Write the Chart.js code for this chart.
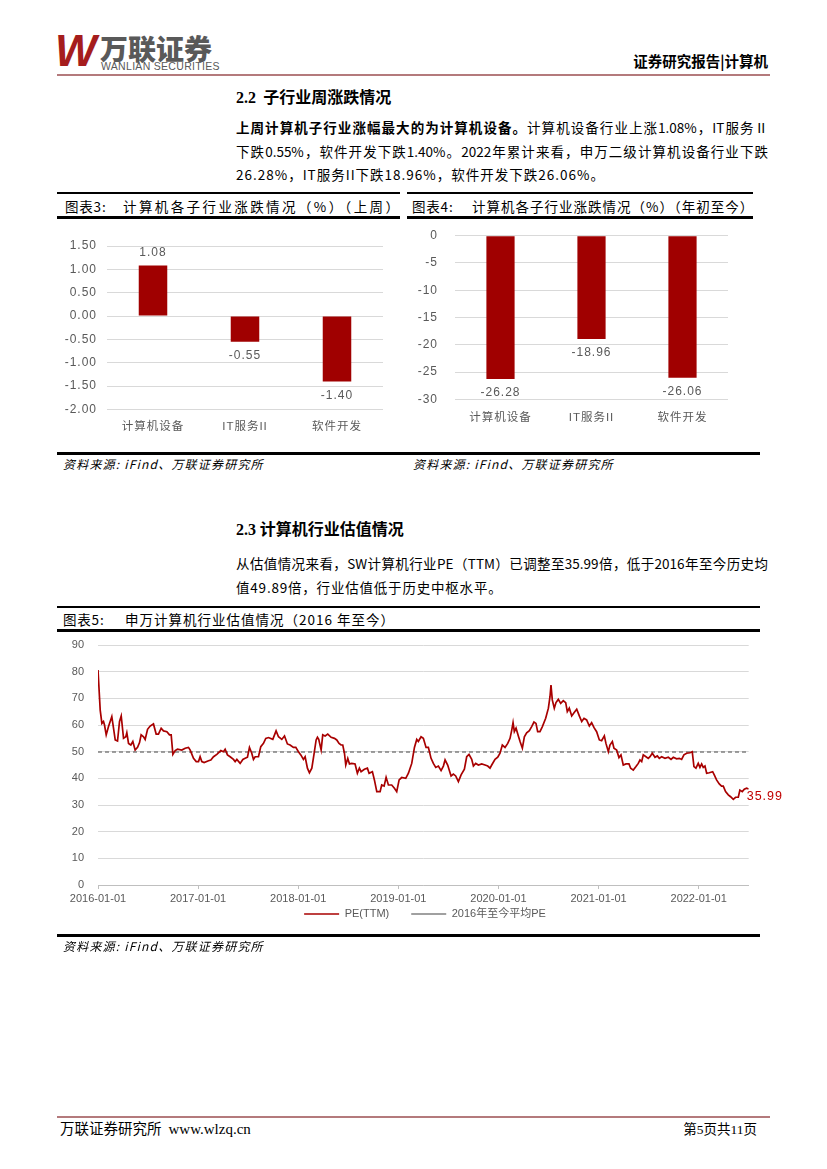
<!DOCTYPE html>
<html><head><meta charset="utf-8">
<script src="https://cdn.jsdelivr.net/npm/chart.js@4.4.0/dist/chart.umd.min.js"></script>
<style>
html,body{margin:0;padding:0;background:#fff;}
body{width:827px;height:1169px;position:relative;overflow:hidden;font-family:"Noto Sans CJK SC","Noto Sans",sans-serif;color:#000;}
.abs{position:absolute;white-space:nowrap;}
.rule{position:absolute;background:#000;}
.para{font-size:13.5px;line-height:20px;}
.just{width:532px;text-align:justify;text-align-last:justify;}
.cap{font-size:13.5px;line-height:20px;letter-spacing:0.8px;}
.src{font-size:12px;line-height:16px;font-style:italic;letter-spacing:1.2px;}
.title{font-size:16px;line-height:20px;font-weight:bold;}
.box{position:absolute;}
</style></head><body>

<!-- header -->
<div class="abs" style="left:55px;top:27px;font-family:'Liberation Sans',sans-serif;font-size:44px;font-weight:900;font-style:italic;color:#a51d1d;line-height:48px;letter-spacing:-3px;">W</div>
<div class="abs" style="left:100px;top:33px;font-size:28px;font-weight:900;color:#595959;line-height:30px;letter-spacing:0px;">万联证券</div>
<div class="abs" style="left:101px;top:61px;font-family:'Liberation Sans',sans-serif;font-size:10.5px;color:#595959;line-height:11px;letter-spacing:0.3px;">WANLIAN SECURITIES</div>
<div class="abs" style="right:59px;top:52px;font-size:14.5px;font-weight:bold;line-height:18px;">证券研究报告|计算机</div>
<div class="rule" style="left:57px;top:74px;width:713px;height:2px;background:#b47a7c;"></div>

<!-- section 2.2 -->
<div class="abs title" style="left:236px;top:86px;"><span style="font-family:'Liberation Serif',serif;">2.2</span>&nbsp; 子行业周涨跌情况</div>
<div class="abs para just" style="left:236px;top:117px;"><b>上周计算机子行业涨幅最大的为计算机设备。</b>计算机设备行业上涨1.08%，IT服务Ⅱ</div>
<div class="abs para just" style="left:236px;top:141px;">下跌0.55%，软件开发下跌1.40%。2022年累计来看，申万二级计算机设备行业下跌</div>
<div class="abs para" style="left:236px;top:164px;letter-spacing:1px;">26.28%，IT服务II下跌18.96%，软件开发下跌26.06%。</div>

<!-- captions 3 & 4 -->
<div class="rule" style="left:57px;top:192px;width:343px;height:2px;"></div>
<div class="rule" style="left:57px;top:216px;width:343px;height:2.5px;"></div>
<div class="abs cap" style="left:65px;top:196px;">图表3:</div>
<div class="abs cap" style="left:123px;top:196px;letter-spacing:2.4px;">计算机各子行业涨跌情况（%）（上周）</div>
<div class="rule" style="left:407px;top:192px;width:346px;height:2px;"></div>
<div class="rule" style="left:407px;top:216px;width:346px;height:2.5px;"></div>
<div class="abs cap" style="left:412px;top:196px;">图表4:</div>
<div class="abs cap" style="left:472px;top:196px;letter-spacing:1px;">计算机各子行业涨跌情况（%）（年初至今）</div>

<div class="box" style="left:57px;top:225px;width:343px;height:215px;"><canvas id="c3"></canvas></div>
<div class="box" style="left:405px;top:225px;width:355px;height:215px;"><canvas id="c4"></canvas></div>

<div class="rule" style="left:57px;top:452px;width:703px;height:2.5px;"></div>
<div class="abs src" style="left:63px;top:456px;">资料来源: iFind、万联证券研究所</div>
<div class="abs src" style="left:413px;top:456px;">资料来源: iFind、万联证券研究所</div>

<!-- section 2.3 -->
<div class="abs title" style="left:236px;top:518px;"><span style="font-family:'Liberation Serif',serif;">2.3</span>&nbsp;计算机行业估值情况</div>
<div class="abs para just" style="left:236px;top:553px;">从估值情况来看，SW计算机行业PE（TTM）已调整至35.99倍，低于2016年至今历史均</div>
<div class="abs para" style="left:236px;top:577px;letter-spacing:0.8px;">值49.89倍，行业估值低于历史中枢水平。</div>

<div class="rule" style="left:57px;top:606px;width:703px;height:2px;"></div>
<div class="rule" style="left:57px;top:629px;width:703px;height:2.5px;"></div>
<div class="abs cap" style="left:63px;top:609px;">图表5:</div>
<div class="abs cap" style="left:125px;top:609px;letter-spacing:1px;">申万计算机行业估值情况（2016 年至今）</div>

<div class="box" style="left:57px;top:635px;width:736px;height:313px;"><canvas id="c5"></canvas></div>

<div class="rule" style="left:57px;top:934px;width:703px;height:2.5px;"></div>
<div class="abs src" style="left:63px;top:938px;">资料来源: iFind、万联证券研究所</div>

<!-- footer -->
<div class="rule" style="left:57px;top:1116px;width:713px;height:2px;background:#b47a7c;"></div>
<div class="abs" style="left:60px;top:1119px;font-size:14.5px;line-height:18px;">万联证券研究所 <span style="font-family:'Liberation Serif',serif;font-size:15px;">&nbsp;www.wlzq.cn</span></div>
<div class="abs" style="right:70px;top:1119px;font-size:13.5px;line-height:18px;">第<span style="font-family:'Liberation Serif',serif;">5</span>页共<span style="font-family:'Liberation Serif',serif;">11</span>页</div>

<script>
// ---------- data ----------
const categories = ['计算机设备', 'IT服务II', '软件开发'];
const weekChange = [1.08, -0.55, -1.40];
const ytdChange = [-26.28, -18.96, -26.06];
const weekAxis = {min: -2, max: 1.5, step: 0.5};
const ytdAxis = {min: -30, max: 0, step: 5};

const peYears = [
2016.000,2016.022,2016.039,2016.055,2016.065,2016.082,2016.105,2016.138,2016.148,2016.172,
2016.195,2016.215,2016.232,2016.255,2016.278,2016.288,2016.305,2016.328,2016.348,2016.371,
2016.395,2016.415,2016.431,2016.455,2016.471,2016.495,2016.521,2016.554,2016.581,2016.604,
2016.631,2016.654,2016.688,2016.714,2016.731,2016.748,2016.771,2016.794,2016.837,2016.871,
2016.904,2016.921,2016.954,2016.981,2017.004,2017.020,2017.037,2017.060,2017.104,2017.127,
2017.154,2017.187,2017.227,2017.253,2017.270,2017.293,2017.320,2017.353,2017.370,2017.387,
2017.420,2017.447,2017.470,2017.493,2017.513,2017.536,2017.553,2017.570,2017.603,2017.626,
2017.653,2017.676,2017.703,2017.746,2017.779,2017.803,2017.836,2017.863,2017.892,2017.919,
2017.952,2017.976,2018.002,2018.026,2018.052,2018.069,2018.092,2018.112,2018.136,2018.159,
2018.179,2018.192,2018.205,2018.229,2018.245,2018.269,2018.295,2018.329,2018.362,2018.385,
2018.408,2018.428,2018.445,2018.462,2018.475,2018.495,2018.512,2018.535,2018.568,2018.591,
2018.611,2018.628,2018.661,2018.691,2018.708,2018.741,2018.761,2018.785,2018.818,2018.834,
2018.858,2018.878,2018.901,2018.934,2018.961,2018.984,2019.008,2019.034,2019.074,2019.101,
2019.134,2019.161,2019.184,2019.200,2019.227,2019.250,2019.277,2019.300,2019.327,2019.350,
2019.374,2019.400,2019.427,2019.450,2019.467,2019.493,2019.527,2019.550,2019.573,2019.600,
2019.627,2019.660,2019.683,2019.706,2019.733,2019.750,2019.773,2019.800,2019.833,2019.866,
2019.893,2019.916,2019.933,2019.966,2019.993,2020.016,2020.039,2020.066,2020.093,2020.116,
2020.133,2020.146,2020.159,2020.176,2020.199,2020.216,2020.239,2020.259,2020.282,2020.309,
2020.332,2020.355,2020.375,2020.392,2020.415,2020.439,2020.472,2020.499,2020.515,2020.525,
2020.538,2020.558,2020.575,2020.598,2020.622,2020.648,2020.672,2020.688,2020.708,2020.732,
2020.755,2020.782,2020.808,2020.832,2020.855,2020.881,2020.908,2020.931,2020.955,2020.981,
2021.008,2021.031,2021.058,2021.074,2021.098,2021.114,2021.138,2021.154,2021.181,2021.204,
2021.224,2021.247,2021.274,2021.304,2021.321,2021.347,2021.374,2021.397,2021.414,2021.431,
2021.447,2021.474,2021.497,2021.514,2021.537,2021.564,2021.587,2021.607,2021.630,2021.664,
2021.697,2021.724,2021.747,2021.780,2021.807,2021.830,2021.853,2021.880,2021.913,2021.936,
2021.953,2021.973,2021.996,2022.013,2022.030,2022.046,2022.063,2022.080,2022.106,2022.140,
2022.156,2022.179,2022.206,2022.229,2022.246,2022.269,2022.296,2022.319,2022.346,2022.369,
2022.396,2022.412,2022.436,2022.456,2022.479,2022.500
];
const peValues = [
80.6,65.6,60.6,61.3,60.0,56.3,59.4,63.1,60.6,54.4,
54.0,61.3,63.4,55.0,55.6,57.1,53.1,52.5,53.8,50.6,
51.6,53.4,56.3,55.6,54.6,58.4,59.6,60.4,56.6,56.6,
58.8,57.8,57.5,56.3,56.3,49.0,50.4,50.9,50.6,51.3,
51.6,50.6,47.5,46.3,46.3,48.1,46.3,45.9,46.6,46.9,
48.1,49.0,50.4,50.0,50.9,48.8,48.1,47.1,46.3,47.1,
45.6,47.1,47.5,47.9,51.6,49.4,47.1,48.1,48.1,51.9,
53.1,55.0,55.3,54.6,57.8,55.6,54.6,55.9,52.9,52.5,
51.6,51.6,50.0,48.8,47.1,48.1,43.8,42.1,43.8,49.4,
54.4,55.4,54.6,50.6,56.3,55.9,56.6,55.4,55.0,54.4,
53.1,52.5,52.5,49.4,45.0,47.5,45.4,45.6,45.4,41.9,
43.8,42.5,43.4,43.8,41.9,42.5,39.4,35.0,35.0,37.5,
37.1,40.4,37.5,37.5,36.3,35.0,39.4,40.3,40.0,41.9,
45.6,51.6,54.6,53.8,55.6,55.0,51.6,51.6,47.5,45.6,
44.1,44.6,42.9,44.6,46.9,45.0,40.9,41.6,40.9,38.8,
41.3,43.4,48.1,49.0,47.1,44.6,45.6,45.0,45.4,45.0,
44.6,43.8,45.0,47.1,47.9,49.4,52.5,51.6,53.1,55.0,
58.1,60.9,57.5,58.8,55.9,53.8,51.3,55.6,57.1,57.9,
59.4,61.1,60.6,57.5,57.5,59.4,62.5,66.3,70.6,75.0,
69.4,66.3,68.4,69.6,68.1,69.1,68.4,65.0,66.3,63.4,
64.6,65.9,63.4,61.3,62.5,61.9,59.6,60.9,59.0,57.5,
54.4,54.1,55.9,53.1,50.0,52.5,53.8,51.3,50.6,47.8,
48.8,45.0,45.4,45.4,43.8,43.1,44.4,45.6,46.9,46.3,
48.8,48.1,47.5,48.1,49.4,47.9,48.4,47.5,48.1,47.5,
47.9,47.1,47.9,47.3,47.5,47.1,48.8,49.4,49.6,50.0,
44.4,43.8,45.6,44.1,45.4,44.1,44.6,41.9,42.1,42.5,
41.3,39.4,37.9,37.1,37.1,35.0,33.8,33.1,32.1,32.9,
32.9,35.6,35.0,35.9,36.3,35.99
];
const peMean = 49.89;
const peRange = {min: 2016, max: 2022.5};
const yearTicks = [2016, 2017, 2018, 2019, 2020, 2021, 2022];
const yearTickLabels = ['2016-01-01','2017-01-01','2018-01-01','2019-01-01','2020-01-01','2021-01-01','2022-01-01'];
const seriesNames = ['PE(TTM)', '2016年至今平均PE'];

// ---------- styles ----------
const RED = '#a00000';
const GREY_TXT = '#595959';
const FONT = '"Liberation Sans", "Noto Sans CJK SC", sans-serif';

const spacing = {
  id: 'spacing',
  beforeLayout(c) { c.ctx.letterSpacing = '1px'; },
  beforeDraw(c) { c.ctx.letterSpacing = '1px'; }
};
const valueLabels = {
  id: 'valueLabels',
  afterDatasetsDraw(c) {
    const ctx = c.ctx;
    const meta = c.getDatasetMeta(0);
    const vals = c.data.datasets[0].data;
    ctx.save();
    ctx.font = '12px ' + FONT;
    ctx.fillStyle = GREY_TXT;
    ctx.textAlign = 'center';
    ctx.textBaseline = 'middle';
    meta.data.forEach((bar, i) => {
      const v = vals[i];
      const y = v >= 0 ? bar.y - 13 : bar.y + 14;
      ctx.fillText(v.toFixed(2), bar.x, y);
    });
    ctx.restore();
  }
};

function barChart(id, values, axis, fmt, pad, yWidth, xHeight, xPad, yPad) {
  return new Chart(document.getElementById(id), {
    type: 'bar',
    data: { labels: categories, datasets: [{ data: values, backgroundColor: RED, borderWidth: 0,
      barPercentage: 0.31, categoryPercentage: 1.0 }] },
    options: {
      animation: false, responsive: true, maintainAspectRatio: false,
      layout: { padding: pad },
      plugins: { legend: { display: false }, tooltip: { enabled: false } },
      scales: {
        x: { grid: { display: false }, border: { display: false },
             ticks: { color: GREY_TXT, padding: xPad, font: { size: 11.5, family: FONT } },
             afterFit: s => { s.height = xHeight; } },
        y: { min: axis.min, max: axis.max,
             ticks: { stepSize: axis.step, color: GREY_TXT, padding: yPad, font: { size: 12, family: FONT },
                      callback: v => fmt(v) },
             grid: { color: '#d9d9d9', drawTicks: false, lineWidth: 1 }, border: { display: false },
             afterFit: s => { s.width = yWidth; s.paddingTop = 0; s.paddingBottom = 0; } }
      }
    },
    plugins: [spacing, valueLabels]
  });
}

barChart('c3', weekChange, weekAxis, v => v.toFixed(2), {top: 21, right: 17, left: 0, bottom: 0}, 50, 30.5, 2, 10);
barChart('c4', ytdChange, ytdAxis, v => String(v), {top: 10.7, right: 32, left: 0, bottom: 0}, 50, 40.7, 4, 17);

const endLabel = {
  id: 'endLabel',
  afterDatasetsDraw(c) {
    const meta = c.getDatasetMeta(0);
    const pt = meta.data[meta.data.length - 1];
    const ctx = c.ctx;
    ctx.save();
    ctx.letterSpacing = '1px';
    ctx.font = '12.5px ' + FONT;
    ctx.fillStyle = '#c00000';
    ctx.textAlign = 'left';
    ctx.textBaseline = 'middle';
    ctx.fillText(peValues[peValues.length - 1].toFixed(2), pt.x - 2, pt.y + 8);
    ctx.restore();
  }
};
// lift the legend closer to the axis labels (as in the reference)
const legendLift = {
  id: 'legendLift',
  afterLayout(c) { const l = c.legend; if (l) { l.top -= 18.5; l.bottom -= 18.5; } }
};

new Chart(document.getElementById('c5'), {
  type: 'line',
  data: { datasets: [
    { label: seriesNames[0], data: peYears.map((x, i) => ({x, y: peValues[i]})),
      borderColor: '#a80000', backgroundColor: '#a80000', borderWidth: 1.7, pointRadius: 0, tension: 0 },
    { label: seriesNames[1], data: [{x: peRange.min, y: peMean}, {x: peRange.max, y: peMean}],
      borderColor: '#808080', backgroundColor: '#808080', borderWidth: 1.4, borderDash: [4, 3], pointRadius: 0 }
  ] },
  options: {
    animation: false, responsive: true, maintainAspectRatio: false,
    layout: { padding: { top: 10, left: 0, right: 0, bottom: 0 } },
    plugins: {
      tooltip: { enabled: false },
      legend: { position: 'bottom', labels: { usePointStyle: true, pointStyle: 'line', pointStyleWidth: 35,
        padding: 22, color: GREY_TXT, font: { size: 11, family: FONT } } }
    },
    scales: {
      x: { type: 'linear', min: peRange.min, max: peRange.max,
           grid: { drawOnChartArea: false, tickLength: 4, color: '#bfbfbf' },
           border: { color: '#bfbfbf' },
           ticks: { padding: 3, color: GREY_TXT, autoSkip: false, maxRotation: 0, font: { size: 11, family: FONT },
                    callback: v => { const k = yearTicks.indexOf(v); return k >= 0 ? yearTickLabels[k] : ''; } },
           afterBuildTicks: s => { s.ticks = yearTicks.map(v => ({value: v})); },
           afterFit: s => { s.height = 20; s.paddingRight = 44.3; } },
      y: { min: 0, max: 90,
           ticks: { stepSize: 10, padding: 14, color: GREY_TXT, font: { size: 11, family: FONT } },
           grid: { color: '#d9d9d9', drawTicks: false }, border: { display: false },
           afterFit: s => { s.width = 41; s.paddingTop = 0; s.paddingBottom = 0; } }
    }
  },
  plugins: [endLabel, legendLift]
});
</script>
</body></html>
